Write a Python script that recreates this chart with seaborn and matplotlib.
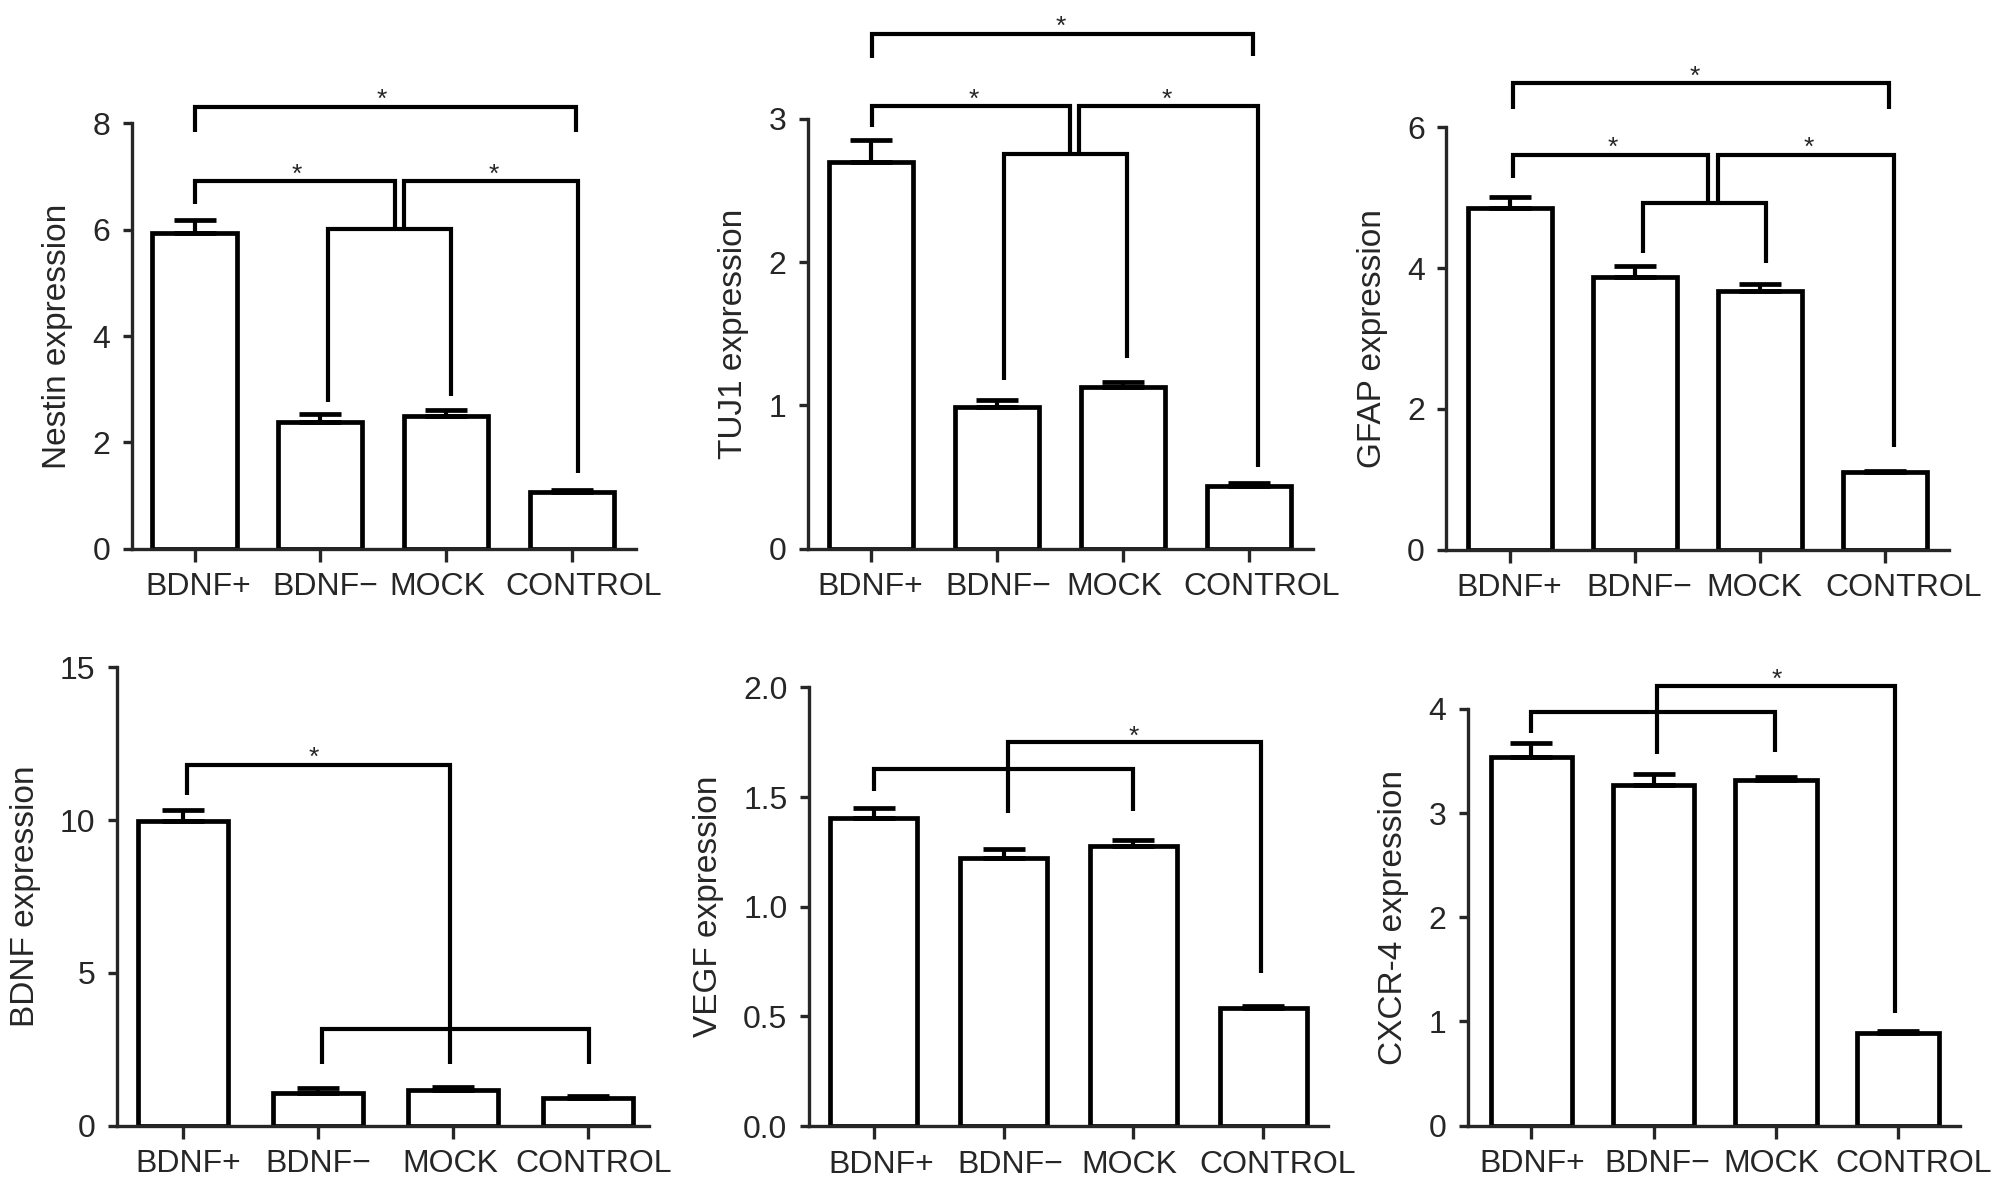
import matplotlib
matplotlib.use("Agg")
import matplotlib.pyplot as plt
import matplotlib.transforms as mtransforms
import numpy as np
import pandas as pd
import seaborn as sns

# data

groups = ["BDNF+", "BDNF\u2212", "MOCK", "CONTROL"]

nestin     = [5.93, 2.38, 2.49, 1.06]
nestin_err = [0.26, 0.15, 0.12, 0.05]
tuj1       = [2.70, 0.99, 1.13, 0.44]
tuj1_err   = [0.15, 0.05, 0.03, 0.02]
gfap       = [4.85, 3.88, 3.67, 1.10]
gfap_err   = [0.16, 0.15, 0.11, 0.02]
bdnf       = [9.96, 1.05, 1.17, 0.89]
bdnf_err   = [0.37, 0.18, 0.08, 0.08]
vegf       = [1.406, 1.220, 1.275, 0.536]
vegf_err   = [0.046, 0.045, 0.027, 0.012]
cxcr4      = [3.54, 3.27, 3.32, 0.89]
cxcr4_err  = [0.13, 0.11, 0.03, 0.02]

# significance brackets: (x_left, x_right, y_bar, y_left_end, y_right_end)
nestin_br = [(0.0, 3.03, 8.31, 7.83, 7.83),
             (0.0, 1.59, 6.91, 6.49, 6.02),
             (1.665, 3.05, 6.91, 6.02, 1.43),
             (1.06, 2.04, 6.02, 2.77, 2.88)]
nestin_stars = [(1.49, 8.61), (0.81, 7.20), (2.38, 7.20)]

tuj1_br = [(0.01, 3.03, 3.59, 3.42, 3.44),
           (0.01, 1.58, 3.09, 2.94, 2.75),
           (1.65, 3.07, 3.09, 2.75, 0.57),
           (1.06, 2.03, 2.75, 1.18, 1.33)]
tuj1_stars = [(1.51, 3.70), (0.82, 3.19), (2.35, 3.19)]

gfap_br = [(0.02, 3.03, 6.63, 6.26, 6.26),
           (0.02, 1.585, 5.60, 5.28, 4.92),
           (1.66, 3.07, 5.60, 4.92, 1.46),
           (1.06, 2.05, 4.92, 4.21, 4.07)]
gfap_stars = [(1.48, 6.85), (0.82, 5.83), (2.39, 5.83)]

bdnf_br = [(0.03, 1.975, 11.80, 10.83, 2.0),
           (1.03, 3.01, 3.16, 2.0, 2.0)]
bdnf_stars = [(0.97, 12.32)]

vegf_br = [(0.0, 2.0, 1.63, 1.527, 1.436),
           (1.03, 2.98, 1.751, 1.427, 0.697)]
vegf_stars = [(2.0, 1.817)]

cxcr4_br = [(0.0, 1.995, 3.975, 3.77, 3.59),
            (1.03, 2.98, 4.22, 3.57, 1.08)]
cxcr4_stars = [(2.01, 4.37)]

W, H = 2008, 1191

# (label, values, errors, y ticks, tick format, brackets, stars,
#  px box l/t/r/b, xlim, x label nudges in px)
panels = [
    ("Nestin expression", nestin, nestin_err, [0, 2, 4, 6, 8], "{:.0f}",
     nestin_br, nestin_stars, (131.7, 123.4, 636, 548.8), (-0.5, 3.51),
     [4, 5, -9, 12]),
    ("TUJ1 expression", tuj1, tuj1_err, [0, 1, 2, 3], "{:.0f}",
     tuj1_br, tuj1_stars, (808, 118.6, 1313, 548.8), (-0.5, 3.51),
     [-1, 1, -8, 13]),
    ("GFAP expression", gfap, gfap_err, [0, 2, 4, 6], "{:.0f}",
     gfap_br, gfap_stars, (1446.5, 127.3, 1949, 549.6), (-0.51, 3.51),
     [-1, 4, -6, 18]),
    ("BDNF expression", bdnf, bdnf_err, [0, 5, 10, 15], "{:.0f}",
     bdnf_br, bdnf_stars, (117, 667.3, 649.5, 1125.5), (-0.49, 3.455),
     [5, 0, -3, 6]),
    ("VEGF expression", vegf, vegf_err, [0.0, 0.5, 1.0, 1.5, 2.0], "{:.1f}",
     vegf_br, vegf_stars, (809, 687.4, 1328, 1126), (-0.5, 3.5),
     [7, 7, -4, 15]),
    ("CXCR-4 expression", cxcr4, cxcr4_err, [0, 1, 2, 3, 4], "{:.0f}",
     cxcr4_br, cxcr4_stars, (1468, 709, 1960, 1125.5), (-0.52, 3.51),
     [1, 4, -4, 16]),
]

sns.set_style("ticks")
plt.rcParams["font.family"] = ["Liberation Sans", "DejaVu Sans"]

fig = plt.figure(figsize=(W / 100, H / 100), dpi=100)

for label, vals, errs, yticks, fmt, brackets, stars, box, xlim, nudges in panels:
    l, t, r, b = box
    ax = fig.add_axes([l / W, 1 - b / H, (r - l) / W, (b - t) / H])

    df = pd.DataFrame({"group": groups, "value": vals})
    sns.barplot(data=df, x="group", y="value", color="white", saturation=1,
                edgecolor="black", linewidth=3.4, width=0.67,
                errorbar=None, ax=ax, zorder=2)
    ax.errorbar(range(len(vals)), vals, yerr=[np.zeros(len(errs)), errs],
                fmt="none", ecolor="black", elinewidth=3.0, capsize=15,
                capthick=3.4, zorder=3)

    for x1, x2, yb, y1, y2 in brackets:
        ax.plot([x1, x1, x2, x2], [y1, yb, yb, y2], color="black",
                linewidth=3.0, solid_joinstyle="miter", solid_capstyle="butt",
                clip_on=False, zorder=4)
    for sx, sy in stars:
        ax.annotate("*", (sx, sy), xytext=(0, -11.5), textcoords="offset points",
                    ha="center", va="baseline", fontsize=19, annotation_clip=False)

    ax.set_xlim(*xlim)
    ax.set_ylim(yticks[0], yticks[-1])
    ax.set_yticks(yticks)
    ax.set_yticklabels([fmt.format(v) for v in yticks])
    ax.set_xlabel("")
    ax.set_ylabel(label, fontsize=24, labelpad=14)

    sns.despine(ax=ax)
    for side in ("left", "bottom"):
        ax.spines[side].set_linewidth(2.4)
    ax.tick_params(axis="y", length=6.5, width=2.4, pad=9, labelsize=23)
    ax.tick_params(axis="x", length=9, width=2.4, pad=8, labelsize=23)

    # the original labels are not quite centred under their ticks
    for tl, dx in zip(ax.get_xticklabels(), nudges):
        shift = mtransforms.ScaledTranslation(dx / 100, 0, fig.dpi_scale_trans)
        tl.set_transform(tl.get_transform() + shift)

fig.savefig("out.png", dpi=100)
plt.close(fig)
